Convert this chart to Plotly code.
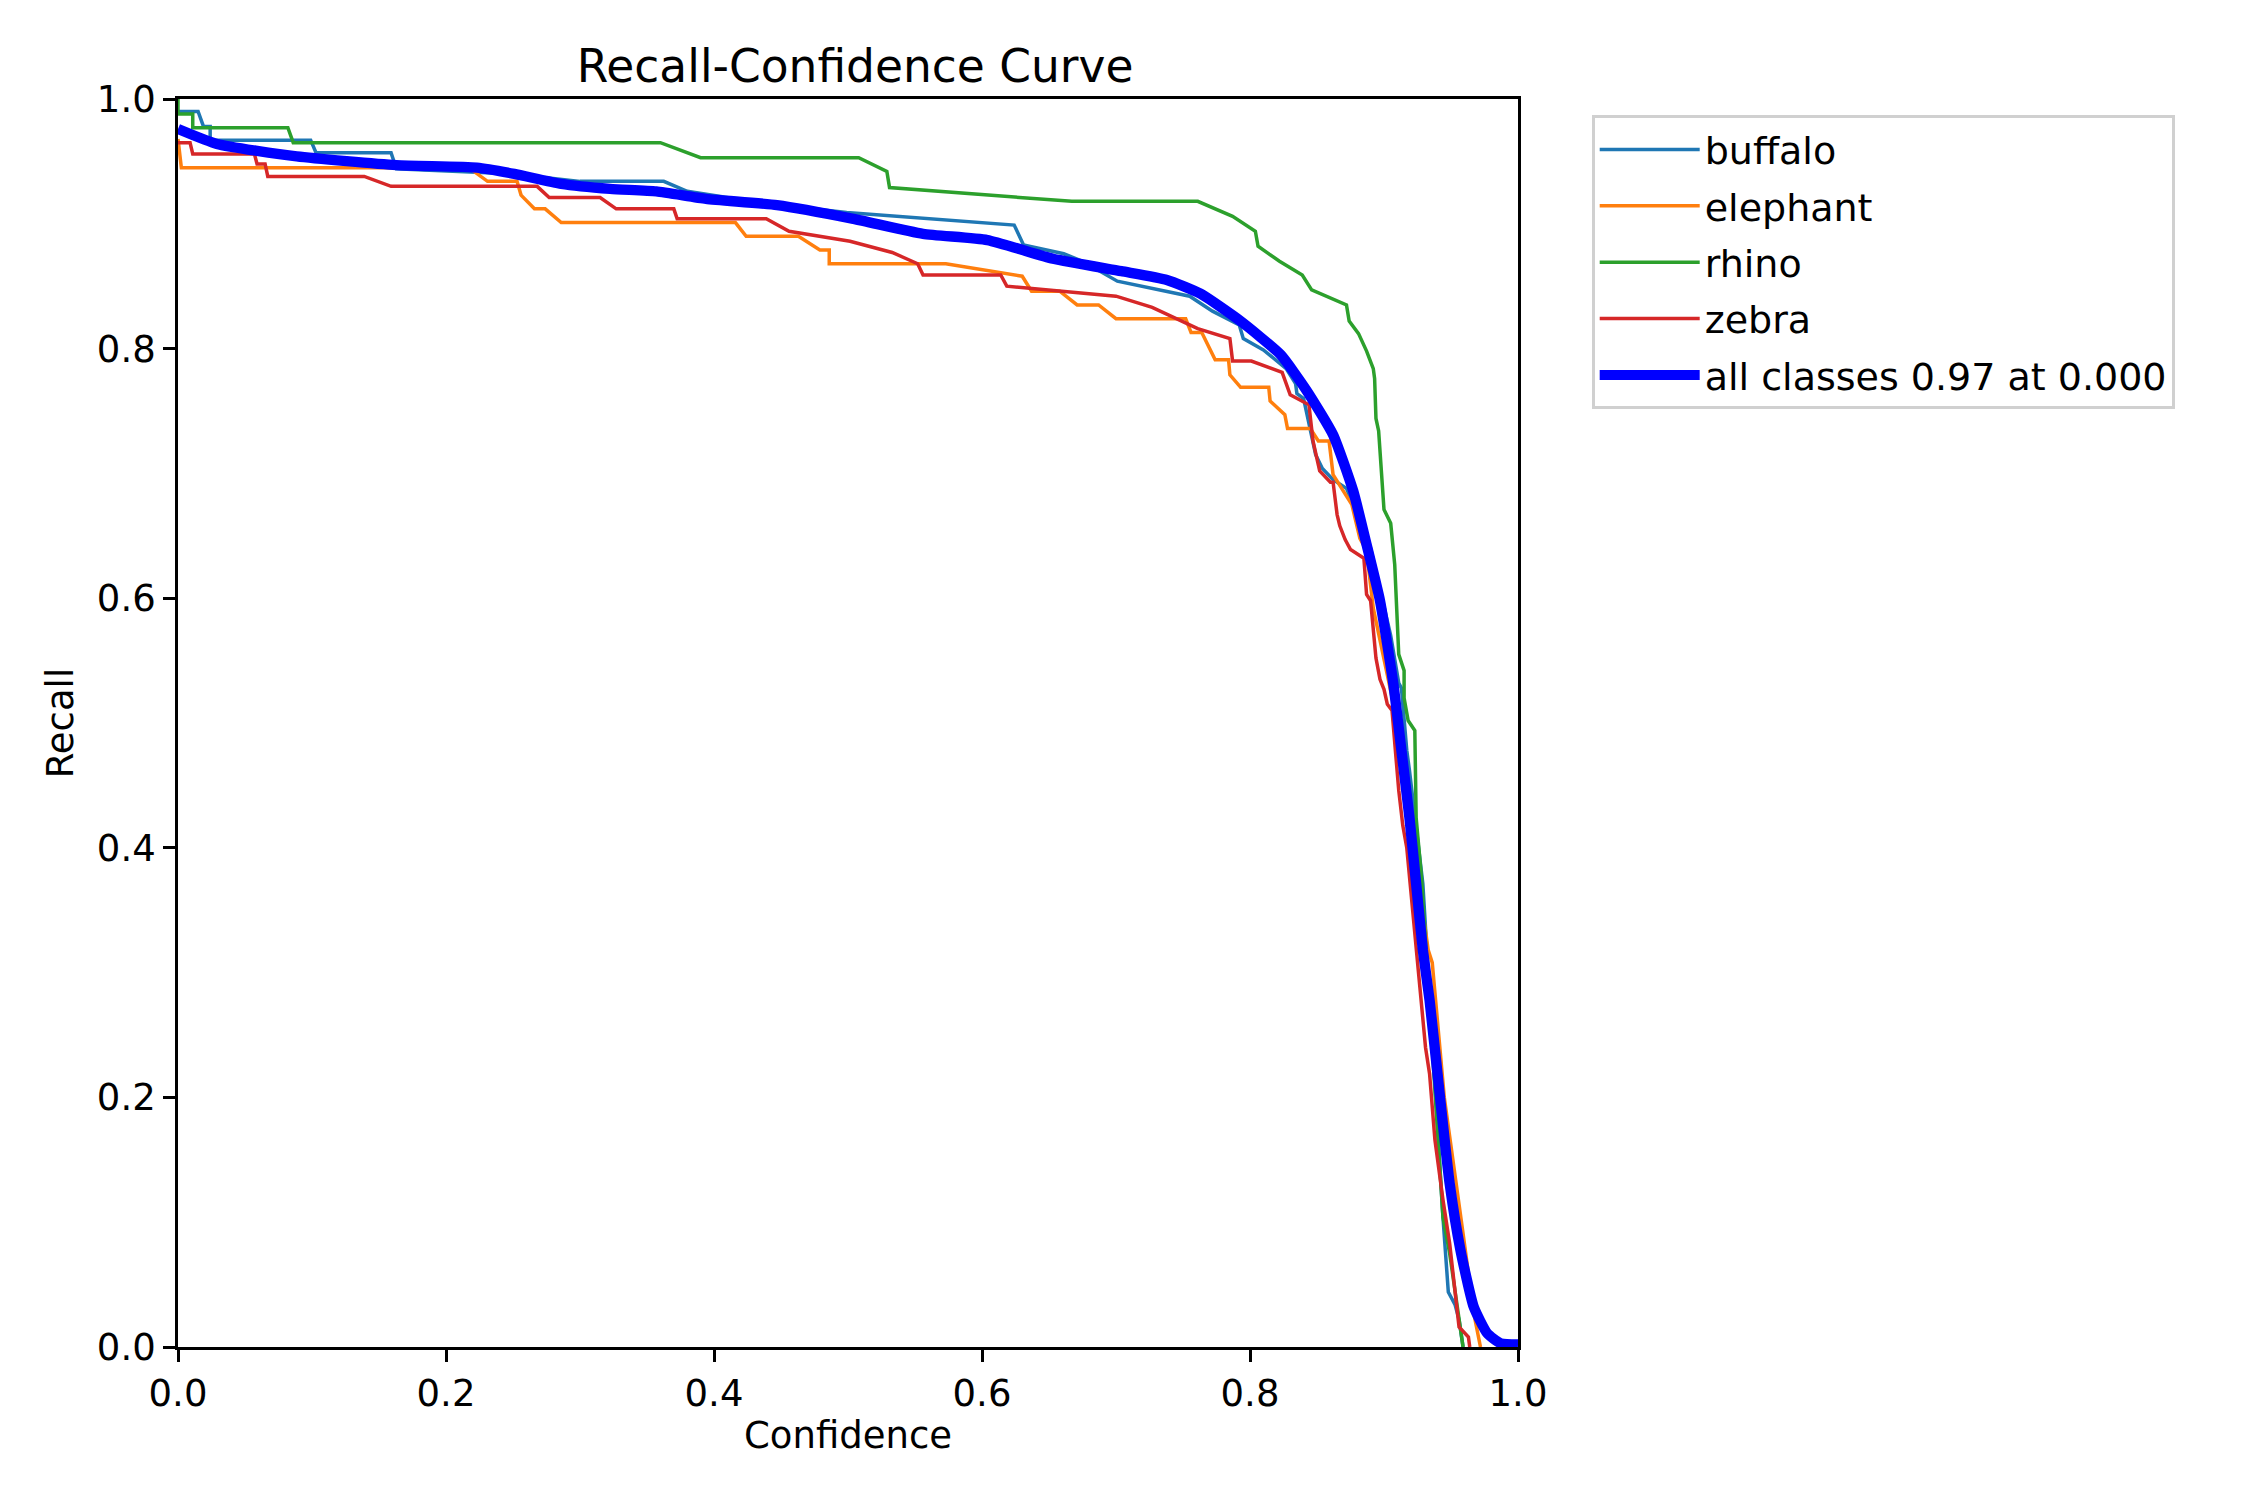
import plotly.graph_objects as go

buffalo_x = [0, 0.015, 0.019, 0.024, 0.024, 0.099, 0.103, 0.159, 0.163, 0.25, 0.30, 0.3625, 0.380, 0.44, 0.499,
             0.624, 0.631, 0.661, 0.675, 0.701, 0.755, 0.772, 0.792, 0.795, 0.810, 0.827, 0.834, 0.835, 0.840,
             0.844, 0.849, 0.854, 0.862, 0.872, 0.89, 0.905, 0.911, 0.913, 0.917, 0.919, 0.929, 0.944, 0.947,
             0.948, 0.953, 0.956, 0.959]
buffalo_y = [0.990, 0.990, 0.978, 0.978, 0.967, 0.967, 0.957, 0.957, 0.944, 0.94, 0.934, 0.934, 0.926, 0.916, 0.909,
             0.899, 0.883, 0.876, 0.870, 0.854, 0.842, 0.830, 0.819, 0.808, 0.799, 0.784, 0.772, 0.764, 0.760,
             0.739, 0.715, 0.704, 0.695, 0.688, 0.64, 0.57, 0.532, 0.528, 0.478, 0.462, 0.371, 0.104, 0.064,
             0.044, 0.034, 0.022, 0.0]

elephant_x = [0, 0.0025, 0.217, 0.231, 0.253, 0.256, 0.266, 0.274, 0.286, 0.416, 0.424, 0.463, 0.479, 0.486,
              0.486, 0.573, 0.630, 0.637, 0.658, 0.671, 0.687, 0.700, 0.752, 0.756, 0.764, 0.774, 0.784, 0.785,
              0.793, 0.814, 0.815, 0.826, 0.828, 0.845, 0.851, 0.859, 0.862, 0.876, 0.882, 0.887, 0.892, 0.91,
              0.925, 0.933, 0.936, 0.945, 0.959, 0.967, 0.972]
elephant_y = [0.968, 0.945, 0.945, 0.934, 0.934, 0.923, 0.912, 0.912, 0.901, 0.901, 0.890, 0.890, 0.879, 0.879,
              0.868, 0.868, 0.858, 0.846, 0.846, 0.835, 0.835, 0.824, 0.824, 0.813, 0.813, 0.791, 0.791, 0.779,
              0.769, 0.769, 0.758, 0.747, 0.736, 0.736, 0.726, 0.726, 0.699, 0.675, 0.648, 0.638, 0.592, 0.5,
              0.38, 0.318, 0.308, 0.2, 0.091, 0.027, 0.0]

rhino_x = [0, 0, 0.011, 0.011, 0.082, 0.086, 0.360, 0.390, 0.508, 0.529, 0.531, 0.667, 0.761, 0.787, 0.804,
           0.806, 0.822, 0.839, 0.846, 0.872, 0.874, 0.881, 0.887, 0.892, 0.893, 0.894, 0.896, 0.898, 0.900,
           0.905, 0.907, 0.908, 0.911, 0.915, 0.915, 0.918, 0.923, 0.924, 0.928, 0.944, 0.949, 0.957, 0.959]
rhino_y = [1.0, 0.988, 0.988, 0.977, 0.977, 0.965, 0.965, 0.953, 0.953, 0.942, 0.929, 0.918, 0.918, 0.906, 0.894,
           0.882, 0.870, 0.859, 0.847, 0.835, 0.822, 0.812, 0.798, 0.784, 0.776, 0.744, 0.734, 0.699, 0.671,
           0.660, 0.632, 0.627, 0.555, 0.542, 0.520, 0.502, 0.494, 0.424, 0.376, 0.104, 0.075, 0.016, 0.0]

zebra_x = [0, 0.009, 0.011, 0.057, 0.059, 0.065, 0.067, 0.139, 0.159, 0.268, 0.277, 0.315, 0.327, 0.370, 0.3725,
           0.439, 0.456, 0.5015, 0.533, 0.552, 0.556, 0.614, 0.6185, 0.700, 0.727, 0.761, 0.785, 0.787, 0.801,
           0.824, 0.830, 0.844, 0.847, 0.852, 0.860, 0.862, 0.865, 0.867, 0.871, 0.875, 0.885, 0.887, 0.890,
           0.894, 0.897, 0.900, 0.9025, 0.906, 0.911, 0.914, 0.917, 0.924, 0.931, 0.934, 0.938, 0.944, 0.949,
           0.956, 0.963, 0.964]
zebra_y = [0.965, 0.965, 0.956, 0.956, 0.948, 0.948, 0.938, 0.938, 0.930, 0.930, 0.921, 0.921, 0.912, 0.912, 0.904,
           0.904, 0.894, 0.886, 0.877, 0.868, 0.859, 0.859, 0.850, 0.842, 0.833, 0.816, 0.808, 0.790, 0.790,
           0.781, 0.763, 0.755, 0.726, 0.702, 0.693, 0.693, 0.667, 0.658, 0.647, 0.639, 0.632, 0.603, 0.598,
           0.552, 0.535, 0.527, 0.515, 0.510, 0.446, 0.418, 0.400, 0.32, 0.240, 0.219, 0.166, 0.118, 0.083,
           0.016, 0.008, 0.0]

all_x = [0, 0.029, 0.0886, 0.163, 0.223, 0.251, 0.286, 0.3225, 0.357, 0.394, 0.447, 0.504, 0.556, 0.604, 0.653,
         0.704, 0.738, 0.763, 0.793, 0.823, 0.8425, 0.862, 0.877, 0.887, 0.897, 0.907, 0.913, 0.919, 0.924,
         0.929, 0.934, 0.942, 0.949, 0.957, 0.967, 0.977, 0.987, 1.0]
all_y = [0.976, 0.964, 0.954, 0.947, 0.945, 0.940, 0.932, 0.928, 0.926, 0.920, 0.915, 0.904, 0.892, 0.887, 0.872,
         0.862, 0.855, 0.844, 0.822, 0.795, 0.766, 0.731, 0.686, 0.643, 0.598, 0.531, 0.478, 0.424, 0.371,
         0.318, 0.278, 0.198, 0.131, 0.078, 0.032, 0.011, 0.003, 0.002]

tick_vals = [0.0, 0.2, 0.4, 0.6, 0.8, 1.0]
tick_text = ["0.0", "0.2", "0.4", "0.6", "0.8", "1.0"]

FONT = "DejaVu Sans"
FS = 37
fig = go.Figure()
series = [
    ("buffalo", buffalo_x, buffalo_y, "#1f77b4"),
    ("elephant", elephant_x, elephant_y, "#ff7f0e"),
    ("rhino", rhino_x, rhino_y, "#2ca02c"),
    ("zebra", zebra_x, zebra_y, "#d62728"),
]
for name, xs, ys, col in series:
    fig.add_trace(go.Scatter(x=xs, y=ys, mode="lines", name=name, legendgroup=name,
                             line=dict(color=col, width=3.5)))
fig.add_trace(go.Scatter(x=all_x, y=all_y, mode="lines", name="all classes 0.97 at 0.000",
                         legendgroup="all",
                         line=dict(color="#0000ff", width=10.4, shape="spline", smoothing=0.5)))

axis_common = dict(range=[0, 1], tickvals=tick_vals, ticktext=tick_text, ticks="outside", ticklen=12,
                   tickwidth=2.8, tickcolor="black", showline=True, linecolor="black", linewidth=2.8,
                   mirror=True, showgrid=False, zeroline=False,
                   tickfont=dict(family=FONT, size=FS, color="black"))

fig.update_layout(
    width=2250, height=1500,
    margin=dict(l=170, r=740, t=91, b=161),
    paper_bgcolor="white", plot_bgcolor="white",
    font=dict(family=FONT, size=FS, color="black"),
    title=dict(text="Recall-Confidence Curve", x=0.3765, xanchor="center", xref="container",
               y=1 - 58 / 1500, yanchor="middle", yref="container",
               font=dict(family=FONT, size=45.5, color="black")),
    xaxis=dict(title=dict(text="Confidence", standoff=8, font=dict(family=FONT, size=FS)), **axis_common),
    yaxis=dict(title=dict(text="Recall", standoff=12, font=dict(family=FONT, size=FS)), **axis_common),
    legend=dict(x=1.055, y=0.987, xanchor="left", yanchor="top", xref="paper", yref="paper",
                bordercolor="#d0d0d0", borderwidth=3, bgcolor="white",
                font=dict(family=FONT, size=38, color="black"), itemwidth=100, tracegroupgap=4),
    showlegend=True,
)

fig.write_html("out.html")
